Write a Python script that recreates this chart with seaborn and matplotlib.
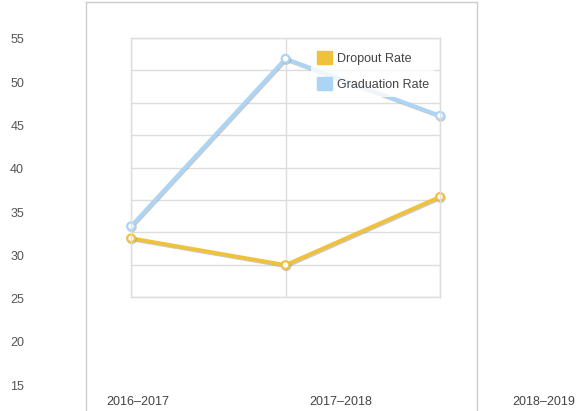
import numpy as np
import pandas as pd
import matplotlib
matplotlib.use("Agg")
import matplotlib.pyplot as plt
import matplotlib.patheffects as pe
from matplotlib.patches import Patch
import seaborn as sns

# ----------------------------------------------------------
# Data
# ----------------------------------------------------------
years = ["2016–2017", "2017–2018", "2018–2019"]
dropout_rate = [31.8, 28.7, 36.6]
graduation_rate = [33.2, 52.6, 46.0]
y_tick_labels = [15, 20, 25, 30, 35, 40, 45, 50, 55]

df = pd.DataFrame({
    "pos": list(range(len(years))) * 2,
    "value": dropout_rate + graduation_rate,
    "series": ["Dropout Rate"] * len(years) + ["Graduation Rate"] * len(years),
})

colors = {"Dropout Rate": "#f0c13b", "Graduation Rate": "#acd5f5"}

# ----------------------------------------------------------
# Figure
# ----------------------------------------------------------
sns.set_style("white")
plt.rcParams["font.family"] = ["Liberation Sans", "DejaVu Sans"]

W, H = 579, 411
fig = plt.figure(figsize=(W / 100, H / 100), dpi=100)

def px_box(x0, y_top, x1, y_bot):
    return [x0 / W, (H - y_bot) / H, (x1 - x0) / W, (y_bot - y_top) / H]

# outer frame
ax_frame = fig.add_axes(px_box(86, 2, 477, 460))
ax_frame.set_facecolor("none")
ax_frame.set_xticks([])
ax_frame.set_yticks([])
for side in ["left", "right", "top"]:
    ax_frame.spines[side].set_color("#cccccc")
    ax_frame.spines[side].set_linewidth(1)
ax_frame.spines["bottom"].set_visible(False)

# label axes (category / value labels)
ax_lab = fig.add_axes(px_box(138, 39, 544, 385))
ax_lab.set_facecolor("none")
for s in ax_lab.spines.values():
    s.set_visible(False)
ax_lab.set_xlim(0, len(years) - 1)
ax_lab.set_ylim(min(y_tick_labels), max(y_tick_labels))
ax_lab.set_xticks(range(len(years)))
ax_lab.set_xticklabels(years)
ax_lab.set_yticks(y_tick_labels)
ax_lab.set_yticklabels([str(v) for v in y_tick_labels])
ax_lab.tick_params(axis="y", length=0, pad=82, labelsize=9, labelcolor="#555555")
ax_lab.tick_params(axis="x", length=0, pad=8, labelsize=9, labelcolor="#444444")

# inner plot
ax = fig.add_axes(px_box(131, 38, 440, 297))
sns.lineplot(
    data=df, x="pos", y="value", hue="series", palette=colors,
    linewidth=2.8, marker="o", markersize=5.5, markerfacecolor="white",
    markeredgewidth=1.6, legend=False, ax=ax, clip_on=False,
)
for line in ax.lines:
    line.set_markeredgecolor(line.get_color())
    line.set_path_effects([
        pe.SimpleLineShadow(offset=(0.6, -0.8), shadow_color="#888888", alpha=0.45),
        pe.Normal(),
    ])

ax.set_xlim(0, len(years) - 1)
ax.set_ylim(25, 55)
ax.set_xticks(range(len(years)))
ax.set_yticks(np.linspace(25, 55, 9))
ax.set_xticklabels([])
ax.set_yticklabels([])
ax.tick_params(length=0)
ax.grid(True, color="#dddddd", linewidth=1)
for s in ax.spines.values():
    s.set_color("#dddddd")
    s.set_linewidth(1)
ax.set_xlabel("")
ax.set_ylabel("")

handles = [Patch(facecolor=colors[k], edgecolor=colors[k], label=k) for k in colors]
leg = ax.legend(
    handles=handles, loc="upper left", bbox_to_anchor=(0.562, 0.995),
    frameon=True, framealpha=0.8, edgecolor="none", facecolor="white",
    fontsize=9, handlelength=1.25, handleheight=1.2, handletextpad=0.35,
    labelspacing=1.0, borderpad=0.45,
)
for t in leg.get_texts():
    t.set_color("#444444")

fig.savefig("out.png", dpi=100)
